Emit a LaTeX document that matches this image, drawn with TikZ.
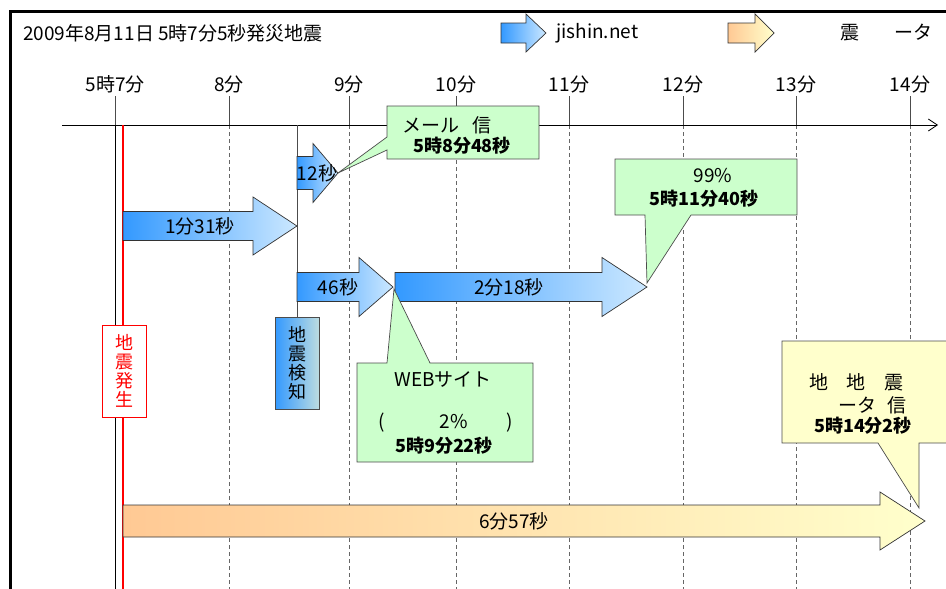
\documentclass[tikz,border=0pt]{standalone}
\usepackage{fontspec}
\setmainfont{Noto Sans CJK JP}
\usepackage{xcolor}
\usepackage{tikz}
\usetikzlibrary{arrows.meta, positioning}

\definecolor{jblue}{HTML}{3399FF}
\definecolor{jlight}{HTML}{CCE8FF}
\definecolor{kgray}{HTML}{BCDCE0}
\definecolor{korange}{HTML}{FFC994}
\definecolor{kyellow}{HTML}{FFFFCC}
\definecolor{cgreen}{HTML}{CCFFCC}

% arrow outline: style, tail x, tip x, mid y, shaft half, head half, head length
\newcommand{\tarrow}[7]{%
  \draw[#1] (#2,#4-#5) -- (#3-#7,#4-#5) -- (#3-#7,#4-#6) -- (#3,#4)
    -- (#3-#7,#4+#6) -- (#3-#7,#4+#5) -- (#2,#4+#5) -- cycle;}

\begin{document}
\begin{tikzpicture}[
  x=1pt, y=-1pt,
  txt/.style = {font=\fontsize{19}{20}\selectfont, inner sep=0pt},
  btxt/.style = {font=\fontsize{18}{19}\selectfont\bfseries, inner sep=0pt},
  tick/.style = {draw=black!70, line width=0.8pt},
  grid/.style = {draw=black!60, line width=0.8pt, dash pattern=on 4pt off 3pt},
  jarr/.style = {draw=black!80, line width=0.7pt, left color=jblue, right color=jlight},
  karr/.style = {draw=black!80, line width=0.7pt, left color=korange, right color=kyellow},
  callout/.style = {draw=black!70, line width=0.7pt, fill=cgreen},
  ycallout/.style = {draw=black!70, line width=0.7pt, fill=kyellow},
  vbox/.style = {rectangle, align=center, inner sep=0pt,
    font=\fontsize{18}{19}\selectfont,
    minimum width=44pt, minimum height=92pt}
]
\useasboundingbox (0,0) rectangle (946,589);

% Frame and header
\draw[line width=3pt] (10,600) -- (10,11) -- (960,11);
\node[txt, anchor=west] (title) at (23,33) {2009年8月11日 5時7分5秒発災地震};
\tarrow{jarr}{501}{546}{33}{10}{19}{20}
\node[txt, anchor=west] (legj) at (556,33) {jishin.net};
\tarrow{karr}{728}{774}{33}{10}{19}{19}
\node[txt, anchor=west] (legk) at (840,33) {震\hspace{35pt}ータ};

% Time axis
\foreach \x/\lab/\n in {115/5時7分/t0, 229/8分/t1, 349/9分/t2, 456/10分/t3,
                        569/11分/t4, 683/12分/t5, 796/13分/t6, 910/14分/t7} {
  \node[txt] (\n) at (\x,84) {\lab};
  \draw[tick] (\x,96) -- (\x,125);
}
\foreach \x in {229,349,456,569,683,796,910}
  \draw[grid] (\x,125) -- (\x,589);
\draw[line width=0.8pt, -{Straight Barb[length=9pt,width=12pt]}] (62,125) -- (938,125);
\draw[line width=0.8pt] (115,125) -- (115,589);
\draw[red, line width=1.5pt] (123,125) -- (123,589);

% Events
\node[vbox, draw=red, fill=white, text=red] (hassei) at (124.5,371) {地\\震\\発\\生};
\node[vbox, draw=black!70, left color=jblue, right color=kgray] (kenchi) at (297,363) {地\\震\\検\\知};
\draw[tick] (297,125) -- (kenchi.north);

% Delivery arrows
\tarrow{jarr}{297}{338}{173}{16.5}{29.5}{25}
\node[txt] (s12) at (317,173) {12秒};
\tarrow{jarr}{123}{297}{226}{14.5}{29}{44}
\node[txt] (s131) at (200,226) {1分31秒};
\tarrow{jarr}{297}{393}{287}{14.5}{29.5}{34}
\node[txt] (s46) at (338,287) {46秒};
\tarrow{jarr}{395}{647}{287}{14.5}{29.5}{45}
\node[txt] (s218) at (509,287) {2分18秒};
\tarrow{karr}{123}{925}{521}{16}{29}{45}
\node[txt] (s657) at (514,521) {6分57秒};

% Callouts
\draw[callout] (387,106) -- (539,106) -- (539,159) -- (387,159) -- (387,150)
  -- (338,173) -- (387,137) -- cycle;
\node[txt, anchor=west] (mail1) at (402,125) {メール\hspace{13pt}信};
\node[btxt] (mail2) at (462,146) {5時8分48秒};

\draw[callout] (615,159) -- (797,159) -- (797,215) -- (691,215) -- (647,283)
  -- (645,215) -- (615,215) -- cycle;
\node[txt] (p99a) at (713,176) {99\%};
\node[btxt] (p99b) at (704,199) {5時11分40秒};

\draw[callout] (357,363) -- (387,363) -- (394,289) -- (430,363) -- (533,363)
  -- (533,462) -- (357,462) -- cycle;
\node[txt] (web1) at (443,379) {WEBサイト};
\node[txt, anchor=west] (web2) at (378,423) {(\hspace{55pt}2\%\hspace{39pt})};
\node[btxt] (web3) at (444,446) {5時9分22秒};

\draw[ycallout] (782,341) -- (960,341) -- (960,443) -- (919,443) -- (919,508)
  -- (878,443) -- (782,443) -- cycle;
\node[txt, anchor=west] (yel1) at (809,382) {地\hspace{18.5pt}地\hspace{18.5pt}震};
\node[txt, anchor=west] (yel2) at (838,405) {ータ\hspace{11pt}信};
\node[btxt] (yel3) at (863,426) {5時14分2秒};
\end{tikzpicture}
\end{document}
